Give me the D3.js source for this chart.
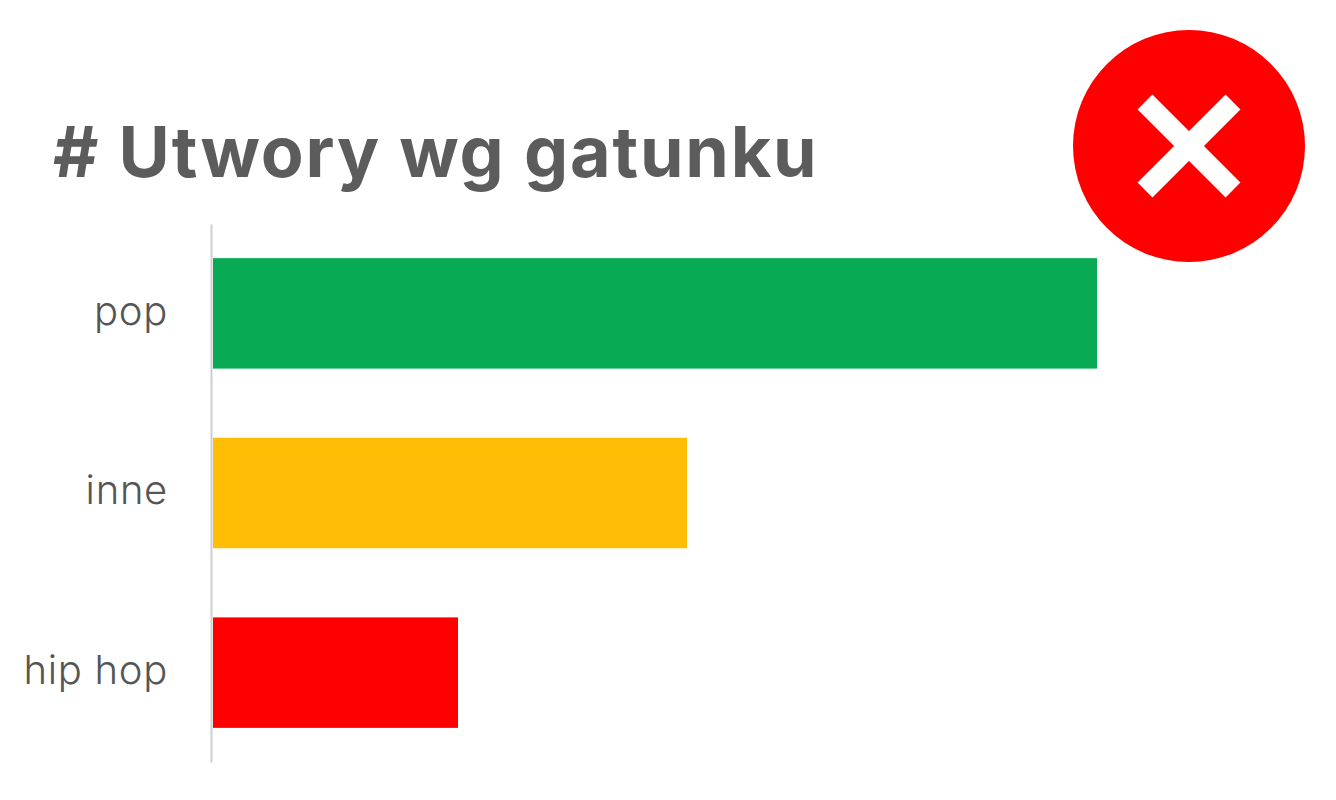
<!DOCTYPE html>
<html>
<head>
<meta charset="utf-8">
<script src="https://cdn.jsdelivr.net/npm/d3@7"></script>
<style>
html, body { margin: 0; padding: 0; background: #fff; }
svg { display: block; }
text { font-family: Inter, "Noto Sans", sans-serif; }
</style>
</head>
<body>
<div id="chart-area"></div>
<script>
// values
var genres = ["pop", "inne", "hip hop"];
var counts = [884, 474, 245];
var barColors = ["#08ab53", "#ffbd06", "#ff0000"];
var chartTitle = "# Utwory wg gatunku";

var margin = {left: 213, top: 224, bottom: 38, right: 240};
var width = 1336 - margin.left - margin.right;
var height = 800 - margin.top - margin.bottom;

var svg = d3.select("#chart-area").append("svg")
    .attr("width", 1336)
    .attr("height", 800);

var g = svg.append("g")
    .attr("transform", "translate(" + margin.left + "," + margin.top + ")");

var x = d3.scaleLinear()
    .domain([0, 883])
    .range([0, 883]);

var y = d3.scaleBand()
    .domain(genres)
    .range([0, height])
    .paddingInner(0.385)
    .paddingOuter(0.19);

// bars
g.selectAll("rect.bar")
    .data(genres)
    .enter()
    .append("rect")
    .attr("class", "bar")
    .attr("x", 0)
    .attr("y", function(d){ return y(d); })
    .attr("width", function(d, i){ return x(counts[i]); })
    .attr("height", y.bandwidth())
    .attr("fill", function(d, i){ return barColors[i]; });

// category axis
var leftAxis = d3.axisLeft(y).tickSize(0).tickPadding(45);
var yAxis = g.append("g").attr("class", "y-axis").call(leftAxis);
yAxis.select(".domain")
    .attr("stroke", "#cfcfcf")
    .attr("stroke-width", 2)
    .attr("transform", "translate(-2,0)");
yAxis.selectAll("text")
    .attr("font-size", "40px")
    .attr("font-weight", 300)
    .attr("letter-spacing", "0.7px")
    .attr("fill", "#555555")
    .attr("dy", "0.28em");

// title
svg.append("text")
    .attr("x", 53)
    .attr("y", 177)
    .attr("font-size", "70px")
    .attr("font-weight", 700)
    .attr("letter-spacing", "1.8px")
    .attr("fill", "#5c5c5c")
    .text(chartTitle);

// red cross badge
var badge = svg.append("g").attr("transform", "translate(1189,146)");
badge.append("circle").attr("r", 116).attr("fill", "#ff0000");
badge.append("path")
    .attr("d", "M-44,-44L44,44M44,-44L-44,44")
    .attr("stroke", "#ffffff")
    .attr("stroke-width", 21)
    .attr("fill", "none");
</script>
</body>
</html>
